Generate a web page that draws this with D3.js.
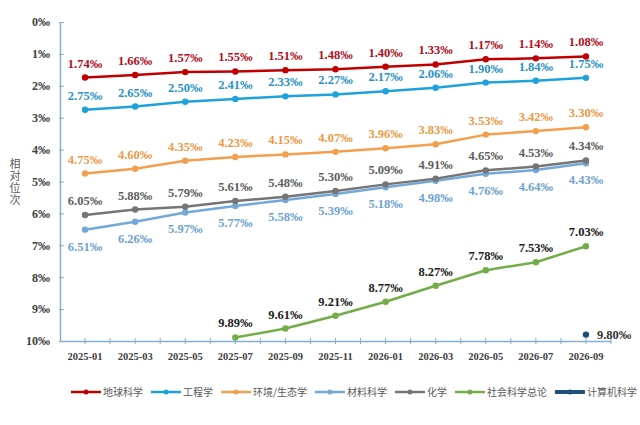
<!DOCTYPE html>
<html><head><meta charset="utf-8">
<script src="https://cdn.jsdelivr.net/npm/d3@7"></script>
<style>body{margin:0;background:#fff;}svg{display:block;}</style>
</head><body><svg id="c" width="640" height="425"></svg>
<script>
const categories = ["2025-01","2025-03","2025-05","2025-07","2025-09","2025-11","2026-01","2026-03","2026-05","2026-07","2026-09"];
const yTicks = [0,1,2,3,4,5,6,7,8,9,10];
const seriesNames = ["地球科学","工程学","环境/生态学","材料科学","化学","社会科学总论","计算机科学"];
const earth = [1.74,1.66,1.57,1.55,1.51,1.48,1.40,1.33,1.17,1.14,1.08];
const engineering = [2.75,2.65,2.50,2.41,2.33,2.27,2.17,2.06,1.90,1.84,1.75];
const environment = [4.75,4.60,4.35,4.23,4.15,4.07,3.96,3.83,3.53,3.42,3.30];
const materials = [6.51,6.26,5.97,5.77,5.58,5.39,5.18,4.98,4.76,4.64,4.43];
const chemistry = [6.05,5.88,5.79,5.61,5.48,5.30,5.09,4.91,4.65,4.53,4.34];
const social = [null,null,null,9.89,9.61,9.21,8.77,8.27,7.78,7.53,7.03];
const computer = [null,null,null,null,null,null,null,null,null,null,9.80];
const yTitle = "相对位次";

const seriesDefs = [
  {name:seriesNames[0], values:earth, color:"#c00000", labelColor:"#b0101e", pos:"above"},
  {name:seriesNames[1], values:engineering, color:"#1ea2dc", labelColor:"#2a93c4", pos:"above"},
  {name:seriesNames[2], values:environment, color:"#f2a04e", labelColor:"#eb9a48", pos:"above"},
  {name:seriesNames[3], values:materials, color:"#72a9d8", labelColor:"#6ea3cf", pos:"below"},
  {name:seriesNames[4], values:chemistry, color:"#757575", labelColor:"#5e5e5e", pos:"above"},
  {name:seriesNames[5], values:social, color:"#72ad47", labelColor:"#222222", pos:"above"},
  {name:seriesNames[6], values:computer, color:"#1f4e79", labelColor:"#333333", pos:"right"}
];

const svg = d3.select("#c");
const serif = "'Liberation Serif','Times New Roman',serif";
const x = d3.scaleBand().domain(categories).range([60,611]);
const xc = d => x(d) + x.bandwidth()/2;
const y = d3.scaleLinear().domain([0,10]).range([22,341]);
const axisColor = "#86afd0";

// Y axis
const yAxis = svg.append("g").attr("transform","translate(60,0)")
  .call(d3.axisLeft(y).tickValues(yTicks).tickFormat(d=>d+"‰").tickSize(0).tickPadding(10));
yAxis.select(".domain").attr("stroke",axisColor).attr("stroke-width",1.5);
yAxis.selectAll(".tick").append("line").attr("x1",-1).attr("x2",4).attr("stroke",axisColor).attr("stroke-width",1);
yAxis.selectAll("text").attr("font-family",serif).attr("font-weight","bold").attr("font-size",12).attr("fill","#404040");

// X axis
const xAxis = svg.append("g").attr("transform","translate(0,341)")
  .call(d3.axisBottom(x).tickSize(0).tickPadding(12));
xAxis.select(".domain").attr("stroke",axisColor).attr("stroke-width",1.5);
xAxis.selectAll("text").attr("font-family",serif).attr("font-weight","bold").attr("font-size",10.5).attr("fill","#404040");
const tickPos = [];
categories.forEach(c=>{ tickPos.push(xc(c)); tickPos.push(x(c)+x.bandwidth()); });
svg.append("g").selectAll("line").data(tickPos).join("line")
  .attr("x1",d=>d).attr("x2",d=>d).attr("y1",338).attr("y2",344)
  .attr("stroke",axisColor).attr("stroke-width",1);

// Y title (single vertical text)
svg.append("text").attr("x",15).attr("y",182).attr("text-anchor","middle")
  .style("writing-mode","vertical-rl").style("text-orientation","upright")
  .attr("letter-spacing",1)
  .attr("font-family","'Noto Sans CJK SC',sans-serif").attr("font-size",11).attr("fill","#595959")
  .text(yTitle);

// Lines
const line = d3.line().defined(d=>d.v!=null).x(d=>xc(d.c)).y(d=>y(d.v));
seriesDefs.forEach(s=>{
  const pts = categories.map((c,i)=>({c, v:s.values[i]}));
  svg.append("path").datum(pts).attr("d",line).attr("fill","none")
    .attr("stroke",s.color).attr("stroke-width",2.5).attr("stroke-linejoin","round");
  const valid = pts.filter(d=>d.v!=null);
  svg.append("g").selectAll("circle").data(valid).join("circle")
    .attr("cx",d=>xc(d.c)).attr("cy",d=>y(d.v)).attr("r",3.2).attr("fill",s.color);
  svg.append("g").selectAll("text").data(valid).join("text")
    .attr("x",d=> s.pos==="right" ? xc(d.c)+11 : xc(d.c))
    .attr("y",d=> s.pos==="above" ? y(d.v)-10 : s.pos==="below" ? y(d.v)+21 : y(d.v)+4)
    .attr("text-anchor", s.pos==="right" ? "start" : "middle")
    .attr("font-family",serif).attr("font-weight","bold").attr("font-size",12.5)
    .attr("fill",s.labelColor).text(d=>d.v.toFixed(2)+"‰");
});

// Legend
const lg = svg.append("g");
let lx = 71;
const ly = 392;
seriesDefs.forEach((s,i)=>{
  const g = lg.append("g");
  g.append("line").attr("x1",lx).attr("x2",lx+30).attr("y1",ly).attr("y2",ly)
    .attr("stroke",s.color).attr("stroke-width", i===6?4:2.5);
  g.append("circle").attr("cx",lx+15).attr("cy",ly).attr("r",2.5).attr("fill",s.color);
  const t = g.append("text").attr("x",lx+32).attr("y",ly+3.5)
    .attr("font-family","'Noto Sans CJK SC',sans-serif").attr("font-size",10).attr("fill","#595959").text(s.name);
  lx += 32 + t.node().getComputedTextLength() + 8;
});
</script>
</body></html>
